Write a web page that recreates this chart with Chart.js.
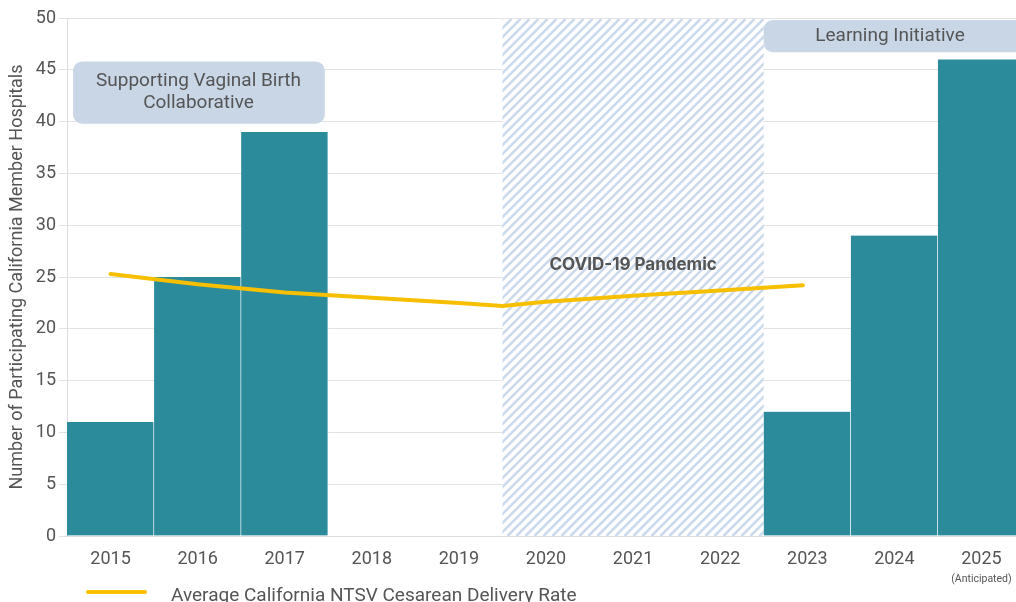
<!DOCTYPE html>
<html>
<head>
<meta charset="utf-8">
<script src="https://cdn.jsdelivr.net/npm/chart.js@4/dist/chart.umd.min.js"></script>
<style>
  html, body { margin: 0; padding: 0; background: #fff; overflow: hidden; }
  #wrap { width: 1025px; height: 602px; }
</style>
</head>
<body>
<div id="wrap"><canvas id="hospital-chart"></canvas></div>
<script>
const years = ['2015', '2016', '2017', '2018', '2019', '2020', '2021', '2022', '2023', '2024', '2025'];
const hospitals = [11, 25, 39, 0, 0, 0, 0, 0, 12, 29, 46];
// cesarean rate line, x is the year index (fractional where the line bends)
const rateX = [0, 1, 2, 3, 4, 4.5, 5, 6, 7, 7.95];
const rateValues = [25.3, 24.3, 23.5, 23.0, 22.5, 22.2, 22.6, 23.2, 23.7, 24.2];
const covidYears = ['2020', '2022'];

const TEAL = '#2c8b9b';
const GOLD = '#f6bf00';
const TEXT = '#555555';
const BOX = '#c8d6e6';

// annotation boxes, in axis units (x = year index, y = hospitals)
const notes = [
    { lines: ['Supporting Vaginal Birth', 'Collaborative'], x0: -0.43, x1: 2.46, y0: 45.8, y1: 39.8, cx: 1.01 },
    { lines: ['Learning Initiative'], x0: 7.5, x1: 10.8, y0: 49.8, y1: 46.7, cx: 8.95 },
];

Chart.defaults.font.family = 'Roboto, "Liberation Sans", sans-serif';
Chart.defaults.color = TEXT;

const overlay = {
    id: 'overlay',
    beforeDatasetsDraw(chart) {
        const { ctx, chartArea, scales: { x } } = chart;
        const left = x.getPixelForValue(years.indexOf(covidYears[0]) - 0.5);
        const right = x.getPixelForValue(years.indexOf(covidYears[1]) + 0.5);
        const top = chartArea.top + 1;
        const h = chartArea.bottom - top;
        ctx.save();
        ctx.beginPath();
        ctx.rect(left, top, right - left, h);
        ctx.clip();
        ctx.fillStyle = '#fff';
        ctx.fillRect(left, top, right - left, h);
        ctx.strokeStyle = '#cad9eb';
        ctx.lineWidth = 2.5;
        for (let k = left - h; k < right + 10; k += 9) {
            ctx.beginPath();
            ctx.moveTo(k, chartArea.bottom);
            ctx.lineTo(k + h, top);
            ctx.stroke();
        }
        ctx.restore();
    },
    afterDatasetsDraw(chart) {
        const { ctx, scales: { x, y } } = chart;
        ctx.save();

        notes.forEach(n => {
            const l = x.getPixelForValue(n.x0), r = x.getPixelForValue(n.x1);
            const t = y.getPixelForValue(n.y0), b = y.getPixelForValue(n.y1);
            ctx.fillStyle = BOX;
            ctx.beginPath();
            ctx.roundRect(l, t, r - l, b - t, 9);
            ctx.fill();
            ctx.fillStyle = TEXT;
            ctx.font = '19px Roboto';
            ctx.textAlign = 'center';
            ctx.textBaseline = 'middle';
            const lh = 22;
            const cy = (t + b) / 2 - (n.lines.length - 1) * lh / 2;
            n.lines.forEach((s, i) => ctx.fillText(s, x.getPixelForValue(n.cx), cy + i * lh));
        });

        ctx.fillStyle = '#555';
        ctx.font = 'bold 17px Inter';
        ctx.textAlign = 'center';
        ctx.textBaseline = 'middle';
        ctx.fillText('COVID-19 Pandemic', x.getPixelForValue(6), y.getPixelForValue(26.2));

        ctx.font = '10.5px Roboto';
        ctx.fillText('(Anticipated)', x.getPixelForValue(10), 579);

        // legend for the rate line
        const ds = chart.data.datasets[1];
        ctx.strokeStyle = GOLD;
        ctx.lineWidth = 4;
        ctx.lineCap = 'round';
        ctx.beginPath();
        ctx.moveTo(88, 592);
        ctx.lineTo(145, 592);
        ctx.stroke();
        ctx.fillStyle = TEXT;
        ctx.font = '19px Roboto';
        ctx.textAlign = 'left';
        ctx.textBaseline = 'alphabetic';
        ctx.fillText(ds.label, 171, 601);
        ctx.restore();
    }
};

new Chart(document.getElementById('hospital-chart'), {
    type: 'bar',
    data: {
        labels: years,
        datasets: [{
            label: 'Participating Hospitals',
            data: hospitals,
            backgroundColor: TEAL,
            borderColor: '#fff',
            borderWidth: { left: 0, right: 1, top: 0, bottom: 0 },
            borderSkipped: false,
            barPercentage: 1,
            categoryPercentage: 1,
            grouped: false,
            order: 1,
        }, {
            type: 'line',
            label: 'Average California NTSV Cesarean Delivery Rate',
            data: rateX.map((v, i) => ({ x: v, y: rateValues[i] })),
            xAxisID: 'xLine',
            borderColor: GOLD,
            borderWidth: 4,
            borderCapStyle: 'round',
            pointRadius: 0,
            tension: 0,
            order: 0,
        }],
    },
    options: {
        responsive: true,
        maintainAspectRatio: false,
        animation: false,
        layout: { padding: { top: 18, bottom: 36, left: 0, right: 0 } },
        plugins: { legend: { display: false }, tooltip: { enabled: false } },
        scales: {
            x: {
                grid: { display: false },
                border: { color: '#dddddd' },
                ticks: { font: { size: 18 }, padding: 5, color: TEXT },
                afterFit(scale) { scale.height = 30; },
            },
            xLine: { type: 'linear', display: false, offset: false, min: -0.5, max: 10.5 },
            y: {
                min: 0,
                max: 50,
                ticks: { stepSize: 5, font: { size: 18 }, color: TEXT },
                grid: { color: '#e2e2e2', tickLength: 8 },
                border: { color: '#dddddd' },
                title: {
                    display: true,
                    text: 'Number of Participating California Member Hospitals',
                    font: { size: 18 },
                    color: TEXT,
                    padding: { top: 7, bottom: 0 },
                },
                afterFit(scale) { scale.width = 67; },
            },
        },
    },
    plugins: [overlay],
});
</script>
</body>
</html>
